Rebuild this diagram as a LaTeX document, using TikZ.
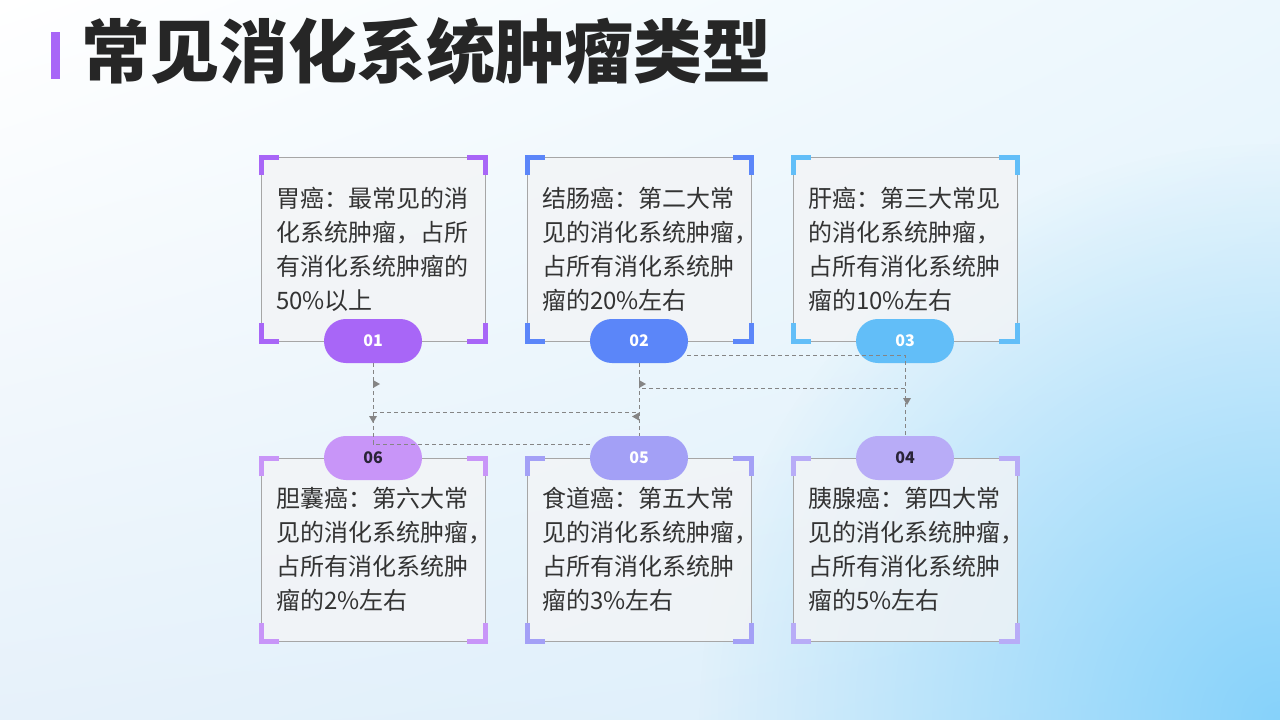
\documentclass[tikz,border=0pt]{standalone}
\usepackage{fontspec}
\setmainfont{Noto Sans CJK SC}
\usetikzlibrary{positioning,calc,fadings,shadings}

\definecolor{cA}{HTML}{A866F7}
\definecolor{cB}{HTML}{5B86F9}
\definecolor{cC}{HTML}{62BEF8}
\definecolor{cD}{HTML}{B8ACF7}
\definecolor{cE}{HTML}{A3A0F6}
\definecolor{cF}{HTML}{C895F8}
\definecolor{ink}{HTML}{333333}
\definecolor{darkink}{HTML}{2A2438}
\definecolor{titleink}{HTML}{262626}
\definecolor{boxgray}{HTML}{A6A6A6}
\definecolor{cardfill}{HTML}{F3F4F6}
\definecolor{linkgray}{HTML}{858585}
\definecolor{bgblue}{HTML}{86D2FA}
\definecolor{bgtr}{HTML}{ECF7FD}
\definecolor{bgbl}{HTML}{E6F1FA}
\definecolor{bgbr}{HTML}{DAEFFB}

\tikzfading[name=glow, inner color=transparent!0, outer color=transparent!100]

\tikzset{
  card/.style={draw=boxgray, line width=1pt, fill=cardfill, fill opacity=0.8, text opacity=1,
    minimum width=224pt, minimum height=184pt, text width=194pt, inner xsep=15pt, inner ysep=0pt,
    outer sep=0pt, align=left, text=ink, font=\fontsize{24}{34}\selectfont},
  pill/.style={rounded corners=21.9pt, minimum width=98pt, minimum height=44pt, inner sep=0pt,
    text=white, font=\bfseries\fontsize{16}{16}\selectfont},
  link/.style={draw=linkgray, line width=1pt, dash pattern=on 4pt off 3pt},
  corner/.style={draw=#1, line width=5pt},
}

% small grey marks on the dashed links
\newcommand{\tipmark}[2]{\fill[linkgray, shift={#1}, rotate=#2] (0,-4) -- (7,0) -- (0,4) -- cycle;}
\newcommand{\lastcomma}{\makebox[12pt][l]{，}}

\begin{document}
\begin{tikzpicture}[x=1pt, y=-1pt]
  \useasboundingbox (0,0) rectangle (1280,720);

  % background
  \shade[upper left=white, upper right=bgtr, lower left=bgbl, lower right=bgbr] (0,0) rectangle (1280,720);
  \begin{scope}
    \clip (0,0) rectangle (1280,720);
    \fill[bgblue, path fading=glow] (1280,720) circle (580);
  \end{scope}

  % title
  \fill[cA] (51,32) rectangle (60,79);
  \node[anchor=west, inner sep=0pt, text=titleink, font=\bfseries\fontsize{69}{69}\selectfont]
    (title) at (81,51) {常见消化系统肿瘤类型};

  % cards
  \node[card, anchor=north west] (b1) at (261,157)
    {胃癌：最常见的消\\化系统肿瘤，占所\\有消化系统肿瘤的\\50\%以上};
  \node[card, right=42pt of b1] (b2)
    {结肠癌：第二大常\\见的消化系统肿瘤\lastcomma\\占所有消化系统肿\\瘤的20\%左右};
  \node[card, right=42pt of b2] (b3)
    {肝癌：第三大常见\\的消化系统肿瘤\lastcomma\\占所有消化系统肿\\瘤的10\%左右};
  \node[card, below=117pt of b1, minimum height=183pt] (b6)
    {胆囊癌：第六大常\\见的消化系统肿瘤\lastcomma\\占所有消化系统肿\\瘤的2\%左右};
  \node[card, right=42pt of b6, minimum height=183pt] (b5)
    {食道癌：第五大常\\见的消化系统肿瘤\lastcomma\\占所有消化系统肿\\瘤的3\%左右};
  \node[card, right=42pt of b5, minimum height=183pt] (b4)
    {胰腺癌：第四大常\\见的消化系统肿瘤\lastcomma\\占所有消化系统肿\\瘤的5\%左右};

  \foreach \b/\c in {b1/cA, b2/cB, b3/cC, b4/cD, b5/cE, b6/cF} {
    \draw[corner=\c] ($(\b.north west)+(0,18)$) -- (\b.north west) -- ($(\b.north west)+(18,0)$);
    \draw[corner=\c] ($(\b.north east)+(-18,0)$) -- (\b.north east) -- ($(\b.north east)+(0,18)$);
    \draw[corner=\c] ($(\b.south west)+(0,-18)$) -- (\b.south west) -- ($(\b.south west)+(18,0)$);
    \draw[corner=\c] ($(\b.south east)+(-18,0)$) -- (\b.south east) -- ($(\b.south east)+(0,-18)$);
  }

  % number pills
  \node[pill, fill=cA] (p1) at (b1.south) {01};
  \node[pill, fill=cB] (p2) at (b2.south) {02};
  \node[pill, fill=cC] (p3) at (b3.south) {03};
  \node[pill, fill=cD, text=darkink] (p4) at (b4.north) {04};
  \node[pill, fill=cE] (p5) at (b5.north) {05};
  \node[pill, fill=cF, text=darkink] (p6) at (b6.north) {06};

  % links
  \draw[link] (p1.south) |- ($(p5.west)+(3,-14)$);
  \draw[link] (p2.south) -- (p5.north);
  \draw[link] ($(p2.east)+(-1,14)$) -| (p4.north);
  \draw[link] ($(p3.south)+(0,25)$) -- ($(p2.south)+(0,25)$);
  \draw[link] ($(p1.south)+(0,49)$) -- ($(p2.south)+(0,49)$);

  \tipmark{(373,384)}{0}
  \tipmark{(639,384)}{0}
  \tipmark{(639,416.5)}{180}
  \tipmark{(373,416)}{-90}
  \tipmark{(907,398)}{-90}
\end{tikzpicture}
\end{document}
